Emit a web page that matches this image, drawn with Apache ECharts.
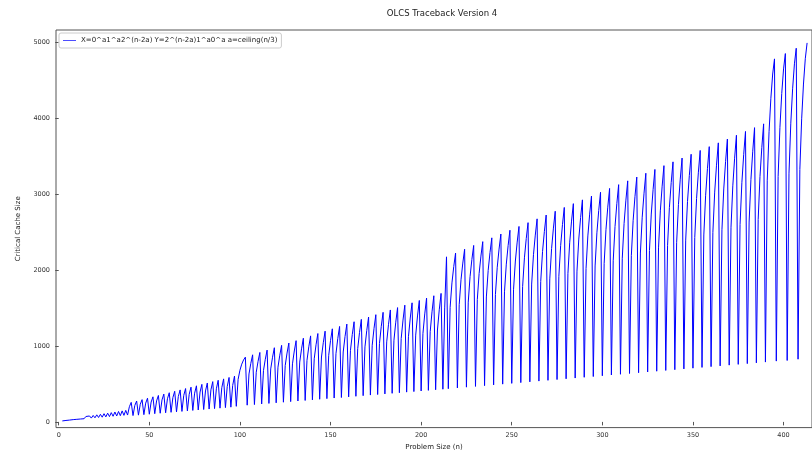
<!DOCTYPE html>
<html>
<head>
<meta charset="utf-8">
<script src="https://cdn.jsdelivr.net/npm/echarts@6/dist/echarts.min.js"></script>
<style>
html,body{margin:0;padding:0;background:#fff;}
#chart{width:812px;height:456px;}
</style>
</head>
<body>
<div id="chart"></div>
<script>
// Problem sizes start at n = 2 and advance by one per value
var sizeStart = 2;

// Critical cache size, n = 2 .. 39
var cacheLow = [13,16,19,21,24,27,30,33,34,56,38,63,42,71,46,78,50,85,54,93,58,100,62,108,66,115,70,122,74,130,78,137,82,145,86,152,90,200];

// n = 40 .. 102
var cachePeriod3 = [257,83,217,275,89,232,293,95,247,312,101,261,330,108,276,348,114,290,366,120,305,384,126,320,403,132,334,421,138,349,439,145,363,457,151,378,475,157,393,494,163,407,512,169,422,530,175,436,548,181,451,566,188,466,585,194,480,603,205,560,680,760,815];

// n = 103 .. 213
var cachePeriod4 = [852,
220,631,770,883, 228,653,797,914, 236,676,824,945, 243,697,851,976,
251,720,878,1007, 259,742,906,1038, 267,764,933,1069, 275,787,961,1101,
282,809,988,1132, 290,831,1015,1163, 298,854,1042,1194, 306,876,1069,1225,
314,898,1096,1256, 321,920,1123,1287, 329,942,1150,1318, 337,964,1177,1349,
345,987,1204,1380, 353,1009,1231,1411, 360,1031,1258,1442, 368,1053,1285,1473,
376,1075,1312,1504, 384,1098,1340,1536, 392,1121,1367,1567, 399,1142,1394,1598,
407,1165,1421,1629, 415,1187,1448,1660, 423,1209,1475,1691,
430,1500];

// n = 214 .. 390
var cachePeriod5 = [2172,
437,1508,1829,2044,2222, 447,1542,1870,2090,2272, 457,1576,1911,2136,2322,
467,1610,1953,2182,2372, 477,1644,1994,2228,2422, 487,1678,2035,2274,2472,
497,1712,2076,2320,2522, 507,1746,2117,2366,2572, 517,1780,2159,2412,2622,
527,1814,2200,2458,2672, 537,1848,2241,2504,2722, 547,1882,2282,2550,2772,
557,1916,2323,2596,2822, 567,1950,2365,2642,2872, 577,1984,2406,2688,2922,
587,2018,2447,2734,2972, 597,2052,2488,2780,3022, 607,2086,2529,2826,3072,
617,2120,2571,2872,3122, 627,2154,2612,2918,3172, 637,2188,2653,2964,3222,
647,2222,2694,3010,3272, 657,2256,2735,3056,3322, 667,2290,2777,3102,3372,
677,2324,2818,3148,3422, 687,2358,2859,3194,3472, 697,2392,2900,3240,3522,
707,2426,2941,3286,3572, 717,2460,2983,3332,3622, 727,2494,3024,3378,3672,
737,2528,3065,3424,3722, 747,2562,3106,3470,3772, 757,2596,3147,3516,3822,
767,2630,3189,3562,3872, 777,2664,3230,3608,3922,
787];

// n = 391 .. 413
var cachePeriod6 = [3181,3819,4258,4578,4777, 800,3228,3876,4321,4645,4847, 808,3273,3931,4383,4712,4917, 825,3322,3988,4446,4779,4987];

var xTicks = [0,50,100,150,200,250,300,350,400];
var yTicks = [0,1000,2000,3000,4000,5000];

var seriesName = 'X=0^a1^a2^(n-2a) Y=2^(n-2a)1^a0^a a=ceiling(n/3)';

var allValues = cacheLow.concat(cachePeriod3, cachePeriod4, cachePeriod5, cachePeriod6);
var seriesData = allValues.map(function (v, i) { return [sizeStart + i, v]; });

var FONT = 'DejaVu Sans';
var chart = echarts.init(document.getElementById('chart'), null, {renderer: 'canvas'});
chart.setOption({
  animation: false,
  backgroundColor: '#ffffff',
  title: {
    text: 'OLCS Traceback Version 4',
    left: 437,
    top: 4,
    textAlign: 'center',
    textStyle: {fontFamily: FONT, fontSize: 8.5, fontWeight: 'normal', color: '#222'}
  },
  legend: {
    show: true,
    left: 59,
    top: 33,
    padding: [3, 4, 3, 4],
    icon: 'rect',
    itemWidth: 13,
    itemHeight: 1,
    itemGap: 5,
    borderColor: '#cccccc',
    borderWidth: 1,
    borderRadius: 2,
    backgroundColor: '#ffffff',
    itemStyle: {color: '#4d4dff'},
    textStyle: {fontFamily: FONT, fontSize: 7, color: '#222', lineHeight: 9}
  },
  grid: {left: 56, right: -6, top: 30, bottom: 27, show: true, borderColor: '#555', borderWidth: 1, backgroundColor: 'transparent'},
  xAxis: {
    type: 'value',
    min: -1.5,
    max: 415.7,
    name: 'Problem Size (n)',
    nameLocation: 'middle',
    nameGap: 14,
    nameTextStyle: {fontFamily: FONT, fontSize: 7, color: '#222'},
    axisLine: {show: false},
    axisTick: {show: true, length: 3.5, lineStyle: {color: '#555'}, customValues: xTicks},
    axisLabel: {fontFamily: FONT, fontSize: 6.5, color: '#333', margin: 4.5, customValues: xTicks,
      formatter: function (v) { return String(v); }},
    splitLine: {show: false}
  },
  yAxis: {
    type: 'value',
    min: -75,
    max: 5157,
    name: 'Critical Cache Size',
    nameLocation: 'middle',
    nameGap: 34,
    nameTextStyle: {fontFamily: FONT, fontSize: 7, color: '#222'},
    axisLine: {show: false},
    axisTick: {show: true, length: 3.5, lineStyle: {color: '#555'}, customValues: yTicks},
    axisLabel: {fontFamily: FONT, fontSize: 6.5, color: '#333', margin: 6, customValues: yTicks,
      formatter: function (v) { return String(v); }},
    splitLine: {show: false}
  },
  series: [{
    name: seriesName,
    type: 'line',
    data: seriesData,
    showSymbol: false,
    symbol: 'none',
    sampling: null,
    lineStyle: {color: '#0000ff', width: 1},
    itemStyle: {color: '#0000ff'}
  }]
});
</script>
</body>
</html>
